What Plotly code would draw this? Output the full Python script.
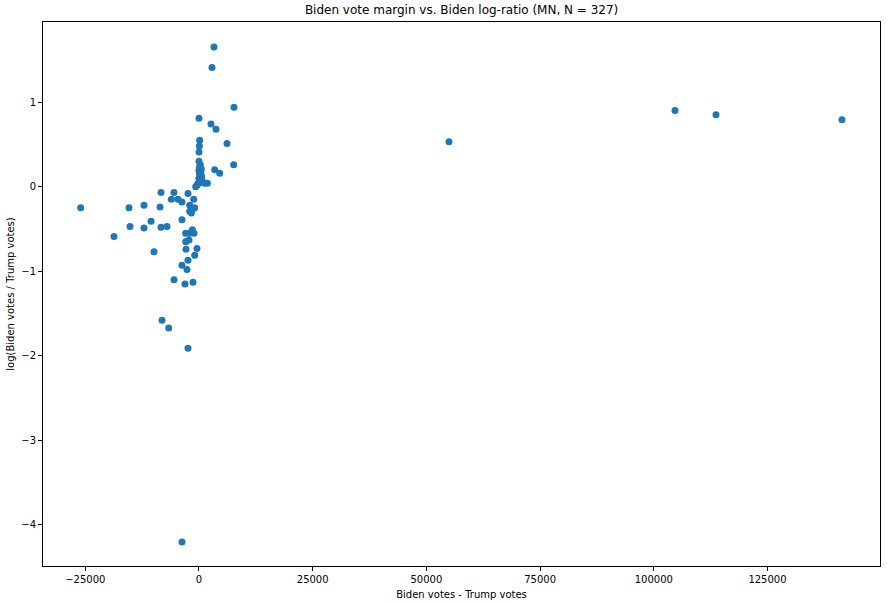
import plotly.graph_objects as go

# Biden votes - Trump votes (per unit)
margin = [
    54970, 104660, 113680, 141380,
    3300, 2860, 7700, 0, 2640, 3740, 6160, 150, 90, 0, 7630, 3450, 4550,
    0, 300, 100, 500, 0, 400, 100, 600, 0, 300, 800, 0, 1850, 1250, 500, -200, -725, -400,
    -8355, -5500, -2420, -6070, -4620, -3740, -1165, -2045, -945, -1670, -2045, -1450,
    -3740, -1450, -2045, -2920, -1100, -2920, -2200, -2860, -440, -945, -2420, -3740,
    -2640, -5500, -3080, -1320, -8135, -6660, -2420, -3740,
    -26010, -18690, -15390, -12090, -8575, -15170, -12090, -10550, -8355, -7040, -9890,
]
# log(Biden votes / Trump votes)
logratio = [
    0.53, 0.90, 0.85, 0.79,
    1.65, 1.41, 0.94, 0.81, 0.74, 0.68, 0.51, 0.55, 0.48, 0.41, 0.26, 0.20, 0.16,
    0.30, 0.26, 0.23, 0.21, 0.19, 0.17, 0.15, 0.12, 0.10, 0.08, 0.06, 0.05, 0.04, 0.04, 0.05, 0.04, 0.0, 0.02,
    -0.07, -0.07, -0.08, -0.15, -0.15, -0.18, -0.15, -0.22, -0.25, -0.31, -0.29, -0.27,
    -0.39, -0.51, -0.55, -0.55, -0.55, -0.65, -0.63, -0.74, -0.73, -0.81, -0.87, -0.93,
    -0.98, -1.10, -1.15, -1.13, -1.58, -1.67, -1.91, -4.20,
    -0.25, -0.59, -0.25, -0.22, -0.24, -0.47, -0.49, -0.41, -0.48, -0.47, -0.77,
]

x_ticks = [-25000, 0, 25000, 50000, 75000, 100000, 125000]
x_labels = ["\u221225000", "0", "25000", "50000", "75000", "100000", "125000"]
y_ticks = [-4, -3, -2, -1, 0, 1]
y_labels = ["\u22124", "\u22123", "\u22122", "\u22121", "0", "1"]

fig = go.Figure(go.Scatter(
    x=margin, y=logratio, mode="markers",
    marker=dict(color="#1f77b4", size=7, line=dict(width=0)),
))

axis_common = dict(
    showgrid=False, zeroline=False, showline=True, linecolor="black", linewidth=1,
    mirror=True, ticks="outside", ticklen=4, tickcolor="black", tickwidth=1,
    tickfont=dict(family="DejaVu Sans", size=10, color="black"),
)

fig.update_layout(
    width=887, height=604,
    margin=dict(l=43, r=7, t=22, b=38),
    paper_bgcolor="white", plot_bgcolor="white",
    font=dict(family="DejaVu Sans", color="black"),
    showlegend=False,
    title=dict(text="Biden vote margin vs. Biden log-ratio (MN, N = 327)",
               x=0.5204, xanchor="center", y=0.983, yanchor="middle",
               font=dict(family="DejaVu Sans", size=12, color="black")),
    xaxis=dict(range=[-34300, 149740], tickvals=x_ticks, ticktext=x_labels,
               title=dict(text="Biden votes - Trump votes", standoff=6,
                          font=dict(family="DejaVu Sans", size=10, color="black")),
               **axis_common),
    yaxis=dict(range=[-4.485, 1.947], tickvals=y_ticks, ticktext=y_labels,
               title=dict(text="log(Biden votes / Trump votes)", standoff=4,
                          font=dict(family="DejaVu Sans", size=10, color="black")),
               **axis_common),
)

fig.write_html("out.html")
